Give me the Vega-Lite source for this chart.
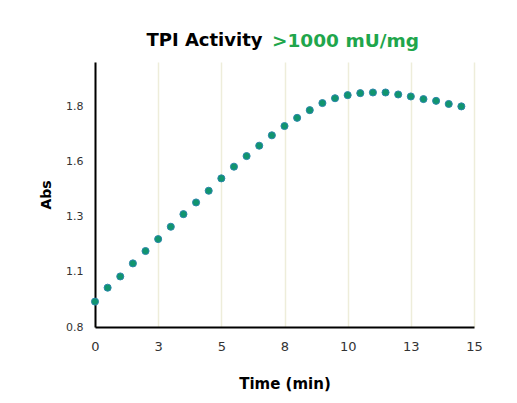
{
  "$schema": "https://vega.github.io/schema/vega-lite/v6.json",
  "width": 379,
  "height": 265,
  "autosize": {"type": "none"},
  "padding": {"left": 95, "top": 62, "right": 43, "bottom": 76},
  "background": "white",
  "title": {
    "text": "TPI Activity",
    "subtitle": ">1000 mU/mg",
    "anchor": "middle",
    "frame": "group",
    "font": "DejaVu Sans",
    "fontSize": 18,
    "fontWeight": "bold",
    "color": "black",
    "subtitleFont": "DejaVu Sans",
    "subtitleFontSize": 18.5,
    "subtitleFontWeight": "bold",
    "subtitleColor": "#1fa64c",
    "subtitlePadding": -18,
    "dx": 61,
    "offset": 12,
    "encode": {"title": {"update": {"dx": {"value": -80}}}}
  },
  "data": {
    "values": [
      {"time": 0, "abs": 0.915},
      {"time": 0.5, "abs": 0.978},
      {"time": 1, "abs": 1.029},
      {"time": 1.5, "abs": 1.088},
      {"time": 2, "abs": 1.144},
      {"time": 2.5, "abs": 1.198},
      {"time": 3, "abs": 1.254},
      {"time": 3.5, "abs": 1.311},
      {"time": 4, "abs": 1.364},
      {"time": 4.5, "abs": 1.417},
      {"time": 5, "abs": 1.473},
      {"time": 5.5, "abs": 1.526},
      {"time": 6, "abs": 1.574},
      {"time": 6.5, "abs": 1.621},
      {"time": 7, "abs": 1.668},
      {"time": 7.5, "abs": 1.71},
      {"time": 8, "abs": 1.747},
      {"time": 8.5, "abs": 1.782},
      {"time": 9, "abs": 1.814},
      {"time": 9.5, "abs": 1.836},
      {"time": 10, "abs": 1.85},
      {"time": 10.5, "abs": 1.859},
      {"time": 11, "abs": 1.862},
      {"time": 11.5, "abs": 1.862},
      {"time": 12, "abs": 1.853},
      {"time": 12.5, "abs": 1.844},
      {"time": 13, "abs": 1.832},
      {"time": 13.5, "abs": 1.824},
      {"time": 14, "abs": 1.81},
      {"time": 14.5, "abs": 1.799}
    ]
  },
  "mark": {"type": "circle", "size": 50, "fill": "#10956e", "stroke": "#2b86aa", "strokeWidth": 1, "opacity": 1},
  "encoding": {
    "x": {
      "field": "time",
      "type": "quantitative",
      "scale": {"domain": [0, 15], "nice": false, "zero": false},
      "axis": {
        "title": "Time (min)",
        "values": [0, 2.5, 5, 7.5, 10, 12.5, 15],
        "format": ".0f",
        "grid": true,
        "gridColor": "#eeedda",
        "gridWidth": 1.5,
        "ticks": false,
        "tickSize": 0,
        "domainColor": "black",
        "domainWidth": 2,
        "labelFont": "DejaVu Sans",
        "labelFontSize": 13,
        "labelColor": "#333333",
        "labelPadding": 13,
        "labelFlush": false,
        "titleFont": "DejaVu Sans",
        "titleFontSize": 15,
        "titleFontWeight": "bold",
        "titleColor": "black",
        "titlePadding": 23
      }
    },
    "y": {
      "field": "abs",
      "type": "quantitative",
      "scale": {"domain": [0.8, 2.0], "nice": false, "zero": false},
      "axis": {
        "title": "Abs",
        "values": [0.8, 1.05, 1.3, 1.55, 1.8],
        "format": ".1f",
        "grid": false,
        "ticks": false,
        "tickSize": 0,
        "domainColor": "black",
        "domainWidth": 2,
        "labelFont": "DejaVu Sans",
        "labelFontSize": 11,
        "labelColor": "#333333",
        "labelPadding": 12,
        "labelFlush": false,
        "titleFont": "DejaVu Sans",
        "titleFontSize": 14,
        "titleFontWeight": "bold",
        "titleColor": "black",
        "titlePadding": 12
      }
    }
  },
  "config": {"view": {"stroke": null}}
}
